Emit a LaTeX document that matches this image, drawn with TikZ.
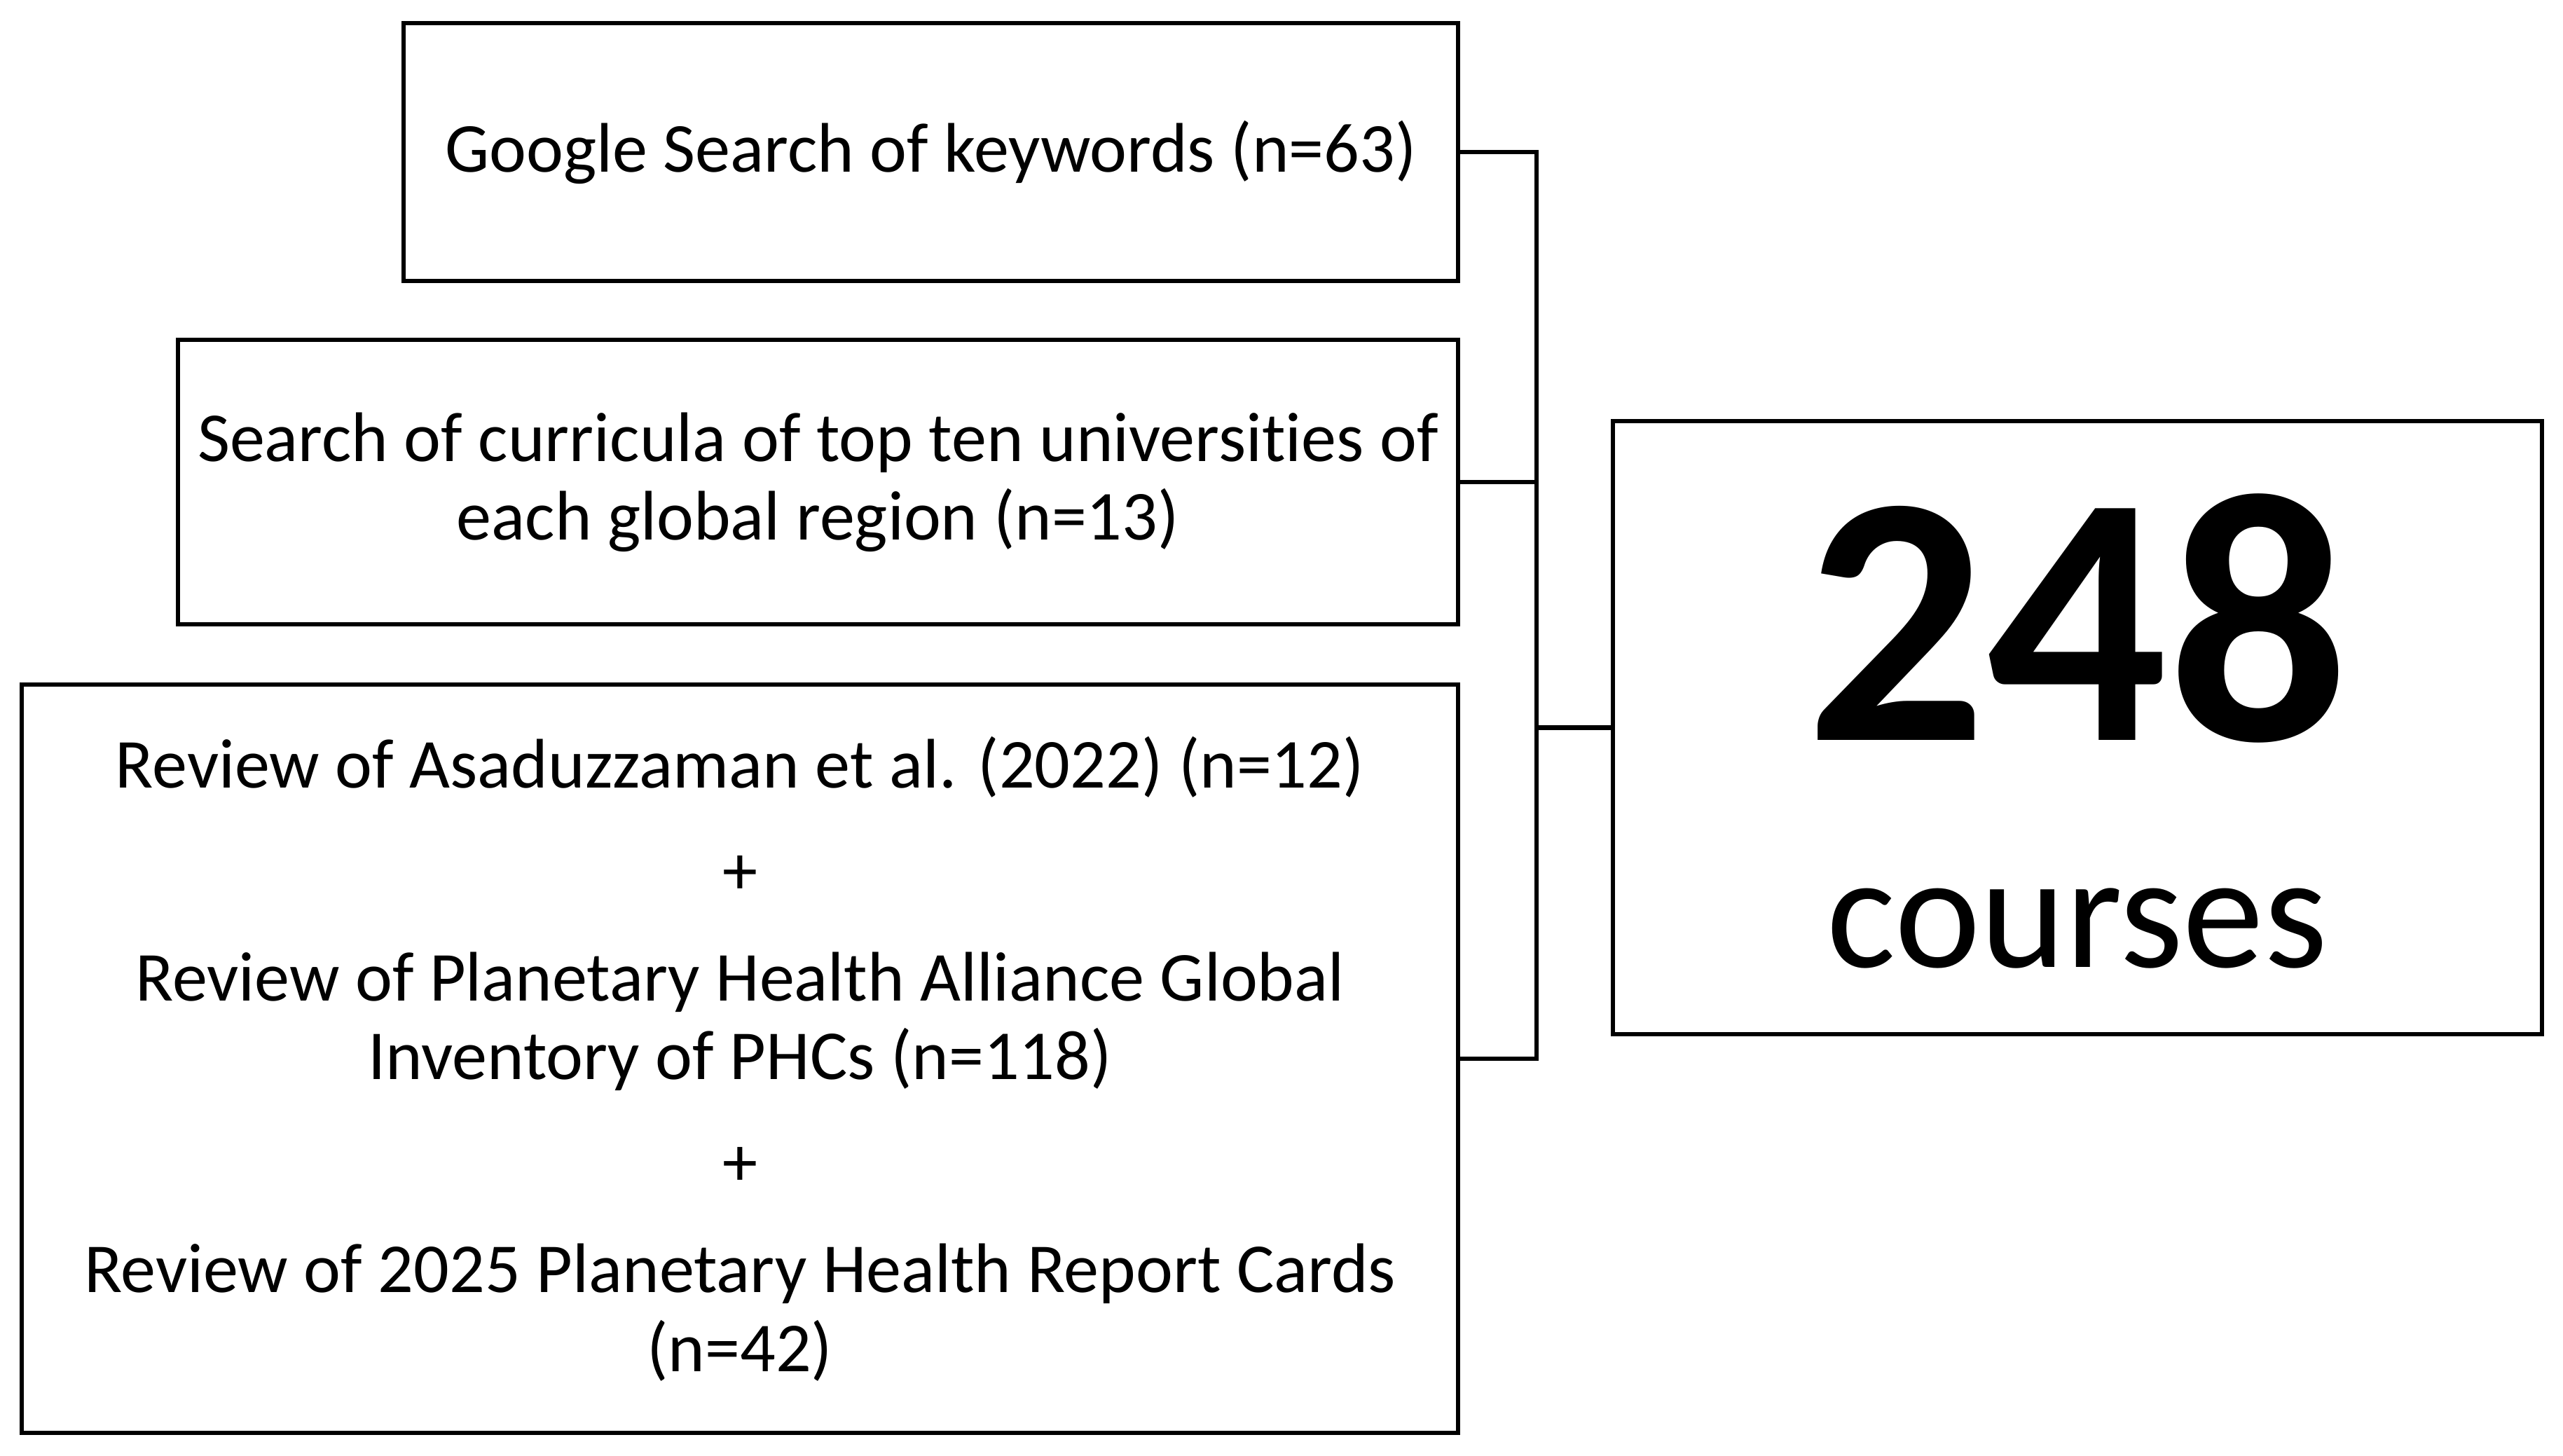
\documentclass[tikz,border=0pt]{standalone}
\usepackage{fontspec}
\setmainfont{Carlito}[Ligatures=NoCommon]
\begin{document}
\begin{tikzpicture}[scale=1,
	srcbox/.style={draw,line width=1.8pt,align=center,inner sep=0pt,font=\fontsize{28.5}{31.9}\selectfont},
	link/.style={line width=1.8pt}]
			\useasboundingbox (0,0) rectangle (36.58,-20.77);
			\node[srcbox,minimum width=15.05cm,minimum height=3.68cm] (google) at (13.285,-2.17) {Google Search of keywords (n=63)};
			\node[srcbox,minimum width=18.27cm,minimum height=4.06cm] (curric) at (11.675,-6.88) {Search of curricula of top ten universities of\\each global region (n=13)};
			\node[srcbox,minimum width=20.50cm,minimum height=10.68cm] (review) at (10.56,-15.11) {Review of Asaduzzaman et al. (2022) (n=12)\\[0.4cm]+\\[0.4cm]Review of Planetary Health Alliance Global\\Inventory of PHCs (n=118)\\[0.4cm]+\\[0.4cm]Review of 2025 Planetary Health Report Cards\\(n=42)};
			\node[draw,line width=1.8pt,minimum width=13.26cm,minimum height=8.75cm] (total) at (29.65,-10.385) {};
			\node[anchor=base,font=\fontsize{145}{145}\selectfont\bfseries] (count) at (29.65,-10.56) {248};
			\node[anchor=base,font=\fontsize{66}{66}\selectfont] (unit) at (29.65,-13.80) {courses};
			\coordinate (hub) at (21.93,-10.385);
			\draw[link] (google.east) -- (google.east -| hub) -- (review.east -| hub) -- (review.east);
			\draw[link] (curric.east) -- (curric.east -| hub);
			\draw[link] (hub) -- (total.west);
		\end{tikzpicture}
\end{document}
